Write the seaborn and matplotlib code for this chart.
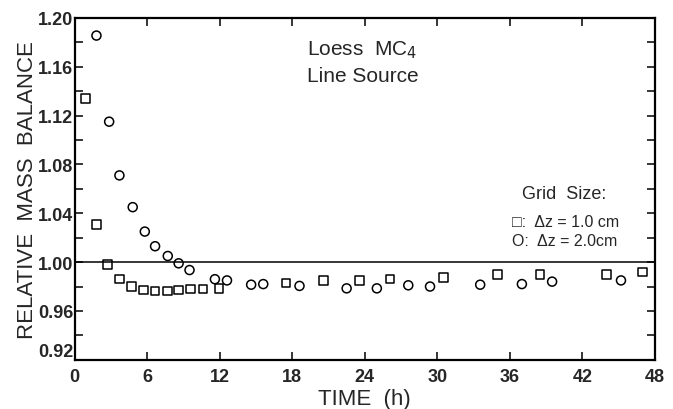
import matplotlib
matplotlib.use("Agg")
import matplotlib.pyplot as plt
import seaborn as sns
import numpy as np
import pandas as pd
from matplotlib.ticker import MultipleLocator

# grid size dz = 1.0 cm (squares)
t_sq = [0.9, 1.8, 2.7, 3.7, 4.7, 5.7, 6.65, 7.7, 8.6, 9.6, 10.6, 11.95,
        17.5, 20.6, 23.55, 26.1, 30.5, 35.0, 38.5, 44.0, 47.0]
mb_sq = [1.134, 1.031, 0.998, 0.986, 0.980, 0.977, 0.9765, 0.9765, 0.977, 0.978, 0.978, 0.9785,
         0.983, 0.985, 0.985, 0.986, 0.9875, 0.990, 0.990, 0.990, 0.992]

# grid size dz = 2.0 cm (circles)
t_ci = [1.8, 2.85, 3.7, 4.8, 5.8, 6.65, 7.7, 8.6, 9.5, 11.6, 12.6, 14.6, 15.6, 18.6,
        22.5, 25.0, 27.6, 29.4, 33.55, 37.0, 39.5, 45.2]
mb_ci = [1.1855, 1.115, 1.071, 1.045, 1.025, 1.013, 1.005, 0.999, 0.9935, 0.986, 0.985, 0.9815, 0.982, 0.9805,
         0.9785, 0.9785, 0.981, 0.980, 0.9815, 0.982, 0.984, 0.985]

df_sq = pd.DataFrame({"time": t_sq, "mb": mb_sq})
df_ci = pd.DataFrame({"time": t_ci, "mb": mb_ci})

sns.set_theme(style="ticks")
plt.rcParams['font.family'] = ['Liberation Sans', 'DejaVu Sans']

fig = plt.figure(figsize=(6.73, 4.10), dpi=100)
ax = fig.add_axes([0.111, 0.12, 0.862, 0.834])

sns.scatterplot(data=df_sq, x="time", y="mb", marker="s", s=38, facecolors="none",
                edgecolor="black", linewidth=1.1, ax=ax)
sns.scatterplot(data=df_ci, x="time", y="mb", marker="o", s=42, facecolors="none",
                edgecolor="black", linewidth=1.1, ax=ax)

ax.axhline(1.0, color="black", lw=1.1, zorder=0)

ax.set_xlim(0, 48)
ax.set_ylim(0.92, 1.20)
ax.set_xticks(np.arange(0, 49, 6))
ax.set_yticks(np.arange(0.92, 1.2001, 0.04))
ax.yaxis.set_minor_locator(MultipleLocator(0.02))
ax.set_yticklabels([f"{v:.2f}" for v in np.arange(0.92, 1.2001, 0.04)])
ax.tick_params(axis="both", which="both", direction="in", top=True, right=True,
               labelsize=13, width=1.1, color="black")
ax.tick_params(axis="y", pad=1)
ax.tick_params(axis="x", pad=6)
ax.tick_params(which="major", length=6)
ax.tick_params(which="minor", length=6)
for lab in ax.get_xticklabels() + ax.get_yticklabels():
    lab.set_fontweight("bold")
# nudge the bottom y label up a little so it clears the x "0"
ax.get_yticklabels()[0].set_verticalalignment("bottom")
for sp in ax.spines.values():
    sp.set_linewidth(1.6)
    sp.set_color("black")

ax.set_xlabel("TIME  (h)", fontsize=16, labelpad=2)
ax.set_ylabel("RELATIVE  MASS  BALANCE", fontsize=16, labelpad=0)

ax.text(0.40, 0.909, "Loess  MC$_4$", transform=ax.transAxes, fontsize=15, va="center")
ax.text(0.40, 0.830, "Line Source", transform=ax.transAxes, fontsize=15, va="center")

ax.text(0.844, 0.485, "Grid  Size:", transform=ax.transAxes, fontsize=13, ha="center", va="center")
ax.text(0.753, 0.403, "\u25a1:  \u0394z = 1.0 cm", transform=ax.transAxes, fontsize=11.5, va="center")
ax.text(0.753, 0.348, "O:  \u0394z = 2.0cm", transform=ax.transAxes, fontsize=11.5, va="center")

fig.savefig("out.png", dpi=100)
